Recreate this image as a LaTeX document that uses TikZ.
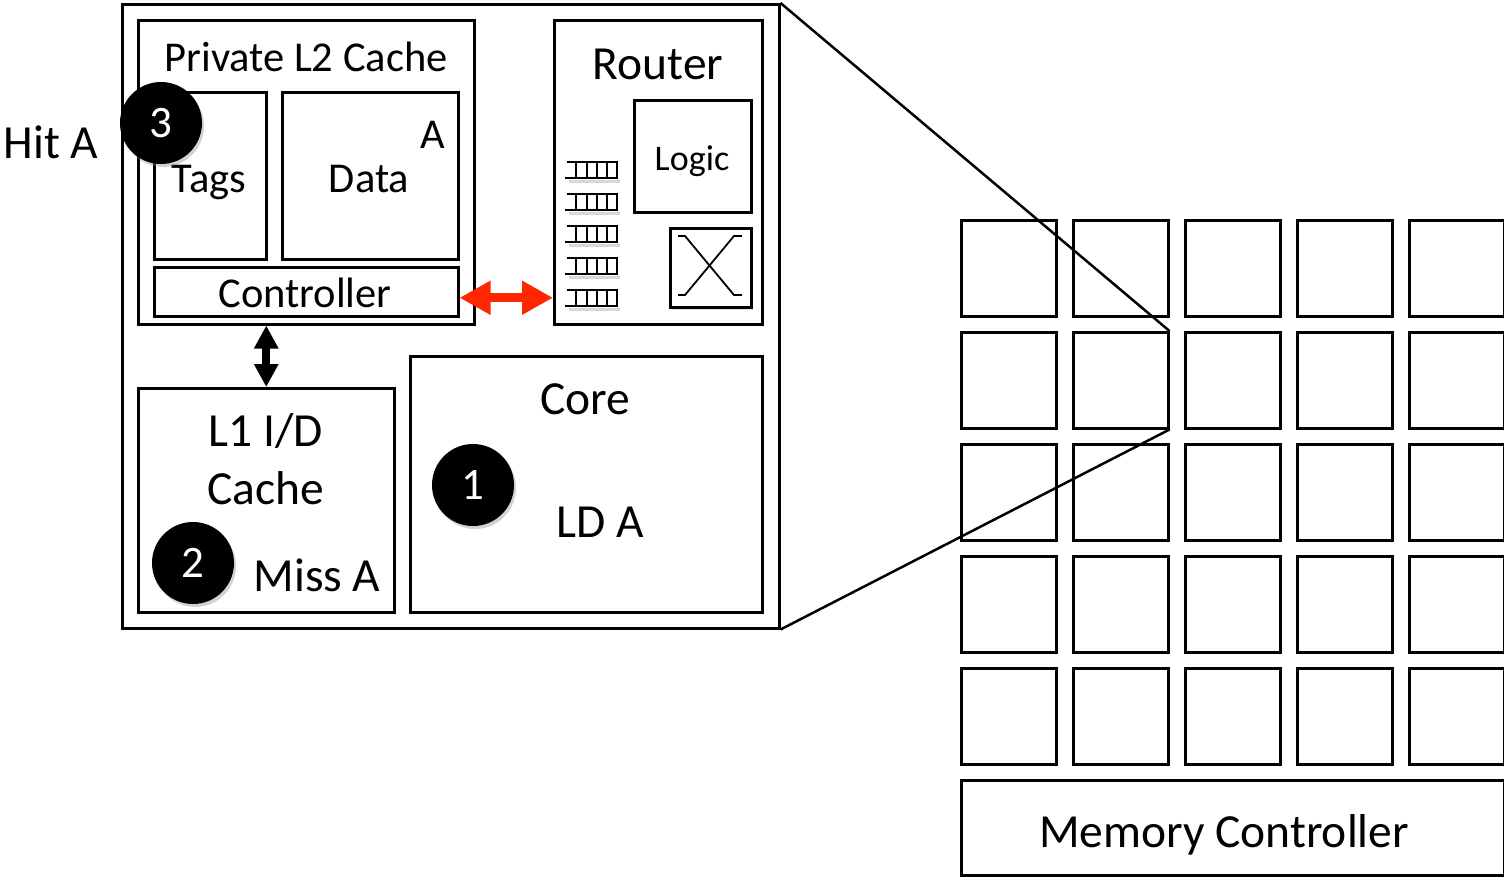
\documentclass[tikz,border=0pt]{standalone}
\usepackage{fontspec}
\setmainfont{Carlito}
\usetikzlibrary{arrows.meta,shadows,calc}
\definecolor{linkred}{RGB}{255,38,0}
\begin{document}
\begin{tikzpicture}[x=1pt,y=-1pt,
  blk/.style={draw, line width=2.5pt, inner sep=0pt, anchor=north west, fill=white},
  lbl/.style={inner sep=0pt, anchor=base, font=\fontsize{47.5}{52}\selectfont},
  midlbl/.style={inner sep=0pt, anchor=base, font=\fontsize{42.5}{46}\selectfont},
  stepnum/.style={circle, fill=black, minimum size=82pt, inner sep=0pt,
    text=white, font=\fontsize{45}{50}\selectfont,
    drop shadow={shadow xshift=2pt, shadow yshift=-3pt, opacity=0.35}},
  bufline/.style={line width=2pt, line cap=rect},
  bufshade/.style={line width=3pt, draw=black!25, opacity=0.6},
  dblarrow/.style={line width=8pt, {Triangle[width=23pt,length=23pt]}-{Triangle[width=23pt,length=23pt]}},
  linkarrow/.style={line width=9pt, draw=linkred, {Triangle[width=32pt,length=31pt]}-{Triangle[width=32pt,length=31pt]}},
  zoomline/.style={line width=2.5pt}
]
\useasboundingbox (0,0) rectangle (1504,876);

% ---- mesh of tiles and memory controller ----
\foreach \i in {0,...,4}{
  \foreach \j in {0,...,4}{
    \node[blk, minimum width=95pt, minimum height=96pt] (m\i\j) at ({960+112*\i},{219+112*\j}) {};
  }
}
\node[blk, minimum width=543pt, minimum height=95pt] (memctrl) at (960,779) {};
\node[lbl] (memtxt) at (1224,847) {Memory Controller};

% ---- enlarged tile ----
\node[blk, minimum width=657pt, minimum height=624pt] (tile) at (121,3) {};

% private L2 cache
\node[blk, minimum width=336pt, minimum height=304pt] (l2) at (137,19) {};
\node[midlbl] (l2txt) at (306,71) {Private L2 Cache};
\node[blk, minimum width=112pt, minimum height=167pt] (tags) at (153,91) {};
\node[blk, minimum width=176pt, minimum height=167pt] (data) at (281,91) {};
\node[blk, minimum width=304pt, minimum height=49pt] (ctrl) at (153,266) {};
\node[midlbl] (tagstxt) at (209,192) {Tags};
\node[midlbl] (datatxt) at (369,192) {Data};
\node[midlbl] (dataA) at (433,148) {A};
\node[midlbl] (ctrltxt) at (305,307) {Controller};

% router
\node[blk, minimum width=208pt, minimum height=304pt] (router) at (553,19) {};
\node[lbl] (routertxt) at (658,79) {Router};
\node[blk, minimum width=117pt, minimum height=112pt] (logic) at (633,99) {};
\node[inner sep=0pt, anchor=base, font=\fontsize{36}{40}\selectfont] (logictxt) at (692,170) {Logic};
\node[blk, minimum width=81pt, minimum height=79pt,
  drop shadow={shadow xshift=1.5pt, shadow yshift=-2.5pt, opacity=0.25}] (xbar) at (669,227) {};
\draw[line width=1.8pt] (678,236) -- (685,236) -- (734,295) -- (742,295);
\draw[line width=1.8pt] (742,236) -- (734,236) -- (685,295) -- (678,295);

% input buffers
\foreach \c in {170,202,234,266,298}{
  \draw[bufshade] (569,\c+11) -- (620,\c+11);
  \draw[bufline] (566,\c+8) -- (617,\c+8);
  \draw[bufline] (568,\c-8) -- (617,\c-8);
  \foreach \v in {576,587,597,607,617}{
    \draw[line width=1.8pt] (\v,\c-8) -- (\v,\c+8);
  }
}

% L1 and core
\node[blk, minimum width=256pt, minimum height=224pt] (l1) at (137,387) {};
\node[lbl] (l1txta) at (266,446) {L1 I/D};
\node[lbl] (l1txtb) at (266,504) {Cache};
\node[lbl] (misstxt) at (317,591) {Miss A};
\node[blk, minimum width=352pt, minimum height=256pt] (core) at (409,355) {};
\node[lbl] (coretxt) at (585,414) {Core};
\node[lbl] (ldtxt) at (600,537) {LD A};

% connections
\draw[dblarrow] (l1.north |- l2.south) -- (l1.north);
\path ([yshift=-6pt]ctrl.east) coordinate (ra);
\draw[linkarrow] (ra) -- (ra -| router.west);

% zoom lines from the tile to its place in the mesh
\draw[zoomline] (tile.north east) -- (m11.north east);
\draw[zoomline] (tile.south east) -- (m11.south east);

% step markers
\node[stepnum] (s3) at (161,123) {\raisebox{-2pt}{3}};
\node[stepnum] (s1) at (473,485) {\raisebox{-2pt}{1}};
\node[stepnum] (s2) at (193,563) {\raisebox{-2pt}{2}};

\node[lbl] (hittxt) at (51,158) {Hit A};
\end{tikzpicture}
\end{document}
